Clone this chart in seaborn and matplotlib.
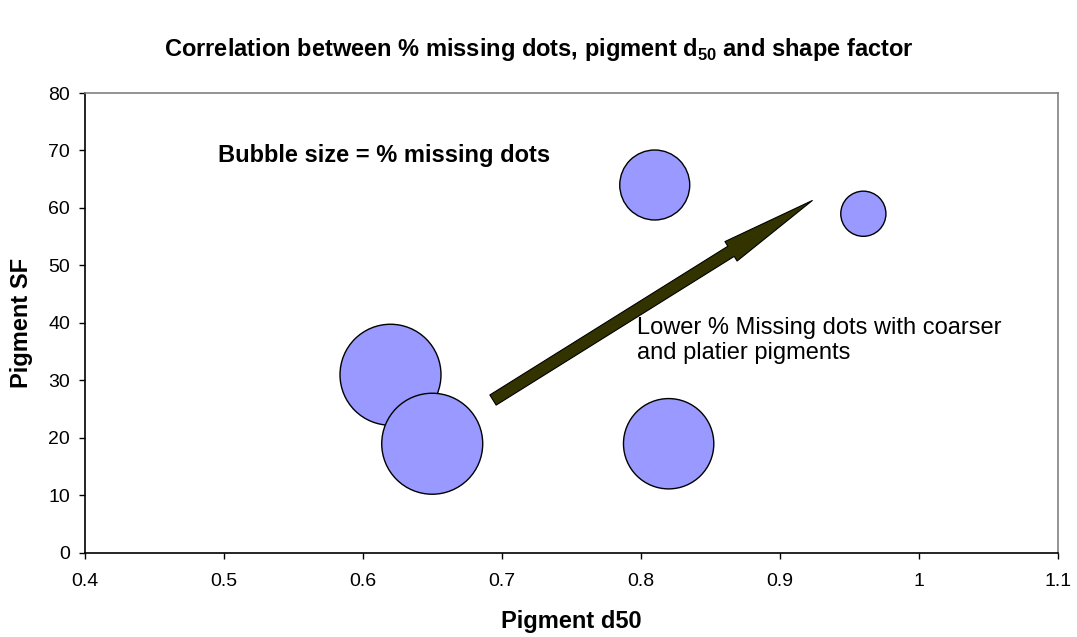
import matplotlib
matplotlib.use("Agg")
import matplotlib.pyplot as plt
import seaborn as sns
import pandas as pd

# Data
pigment_d50 = [0.62, 0.65, 0.81, 0.82, 0.96]
pigment_sf = [31, 19, 64, 19, 59]
missing_dots = [25, 25, 12, 20, 5]   # relative bubble sizes (% missing dots)

x_ticks = [0.4, 0.5, 0.6, 0.7, 0.8, 0.9, 1.0, 1.1]
x_tick_labels = ["0.4", "0.5", "0.6", "0.7", "0.8", "0.9", "1", "1.1"]
y_ticks = [0, 10, 20, 30, 40, 50, 60, 70, 80]

title_text = r"Correlation between % missing dots, pigment d$_{\mathbf{50}}$ and shape factor"
x_label = "Pigment d50"
y_label = "Pigment SF"
legend_note = "Bubble size = % missing dots"
arrow_note = "Lower % Missing dots with coarser\nand platier pigments"
arrow_tail = (0.6937, 26.6)
arrow_tip = (0.9233, 61.3)

df = pd.DataFrame({"d50": pigment_d50, "sf": pigment_sf, "missing": missing_dots})

sns.set_theme(style="white")
plt.rcParams["font.family"] = ["Liberation Sans", "DejaVu Sans"]
plt.rcParams["mathtext.fontset"] = "custom"
plt.rcParams["mathtext.rm"] = "Liberation Sans"
plt.rcParams["mathtext.bf"] = "Liberation Sans:bold"
plt.rcParams["text.color"] = "black"
plt.rcParams["axes.labelcolor"] = "black"
plt.rcParams["xtick.color"] = "black"
plt.rcParams["ytick.color"] = "black"

fig = plt.figure(figsize=(10.77, 6.37), dpi=100)
ax = fig.add_axes([0.0785, 0.1319, 0.9039, 0.7221])

max_s = (101 * 0.72) ** 2
sns.scatterplot(data=df, x="d50", y="sf", size="missing", sizes=(0, max_s),
                size_norm=(0, max(missing_dots)), color="#9999ff",
                edgecolor="black", linewidth=1.0, alpha=1, legend=False, ax=ax,
                zorder=3)

ax.set_xlim(0.4, 1.1)
ax.set_ylim(0, 80)
ax.set_xticks(x_ticks)
ax.set_xticklabels(x_tick_labels)
ax.set_yticks(y_ticks)
ax.tick_params(axis="both", labelsize=14, direction="out", length=4.5, width=1,
               color="black", labelcolor="black", pad=6, left=True, bottom=True)
ax.tick_params(axis="x", pad=10)

for side in ["left", "bottom"]:
    ax.spines[side].set_color("black")
    ax.spines[side].set_linewidth(1.2)
for side in ["top", "right"]:
    ax.spines[side].set_color("#808080")
    ax.spines[side].set_linewidth(1.2)

ax.set_xlabel(x_label, fontsize=17, fontweight="bold", labelpad=14, color="black")
ax.set_ylabel(y_label, fontsize=17, fontweight="bold", labelpad=11, color="black")

fig.text(0.5, 0.923, title_text, ha="center", va="center", fontsize=17,
         fontweight="bold", color="black")

ax.text(0.496, 69.2, legend_note, fontsize=17, fontweight="bold",
        ha="left", va="center", color="black")

ax.annotate("", xy=arrow_tip, xytext=arrow_tail,
            arrowprops=dict(arrowstyle="simple,head_length=69,head_width=16.5,tail_width=8.6",
                            mutation_scale=1, fc="#333300", ec="black", lw=0.8,
                            shrinkA=0, shrinkB=0), zorder=4)

ax.text(0.7973, 41.0, arrow_note, fontsize=17, ha="left", va="top",
        linespacing=1.15, color="black")

fig.savefig("out.png", dpi=100)
